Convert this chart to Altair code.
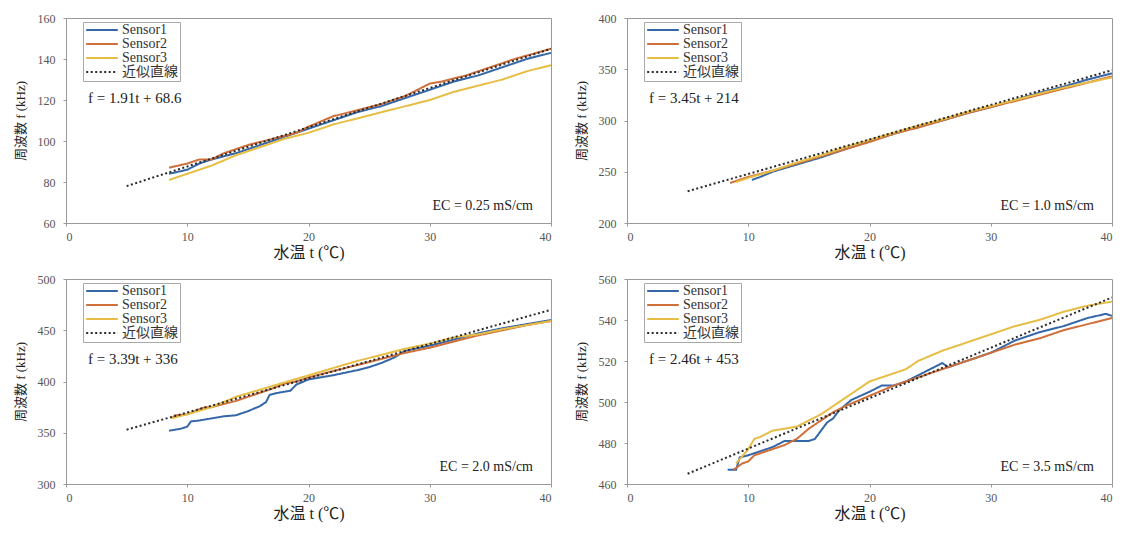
import altair as alt
import pandas as pd

SERIES = ["Sensor1", "Sensor2", "Sensor3", "近似直線"]
COLORS = ["#3567a8", "#cf6f3a", "#e6bd45", "#2a2a2a"]
X_TICKS = [0, 10, 20, 30, 40]

# ---- Panel 1: EC = 0.25 mS/cm ----
P1_S1_T = [8.5, 10, 11, 12, 14, 16, 18, 20, 22, 24, 26, 28, 30, 32, 34, 36, 38, 40]
P1_S1_F = [84, 86, 89, 91, 94, 98, 102, 106, 110, 114, 117, 121, 125, 129, 132, 136, 140, 143]
P1_S2_T = [8.5, 10, 11, 12, 13, 15, 17, 19, 20, 22, 24, 26, 28, 30, 31, 33, 35, 37, 40]
P1_S2_F = [87, 89, 91, 91, 94, 98, 101, 104, 107, 112, 115, 118, 122, 128, 129, 132, 136, 140, 145]
P1_S3_T = [8.5, 10, 12, 14, 16, 18, 20, 22, 24, 26, 28, 30, 32, 34, 36, 38, 40]
P1_S3_F = [81, 84, 88, 93, 97, 101, 104, 108, 111, 114, 117, 120, 124, 127, 130, 134, 137]
P1_FIT_T = [5, 40]
P1_FIT_F = [78, 145]
P1_Y = [60, 160]
P1_YTICKS = [60, 80, 100, 120, 140, 160]
P1_EQ = "f = 1.91t + 68.6"
P1_EC = "EC = 0.25 mS/cm"

# ---- Panel 2: EC = 1.0 mS/cm ----
P2_S1_T = [10.3, 11, 12, 14, 16, 18, 20, 22, 24, 26, 28, 30, 32, 34, 36, 38, 40]
P2_S1_F = [242, 245, 250, 257, 264, 272, 280, 287, 294, 300, 307, 313, 320, 327, 333, 340, 346]
P2_S2_T = [8.5, 9, 10, 12, 14, 16, 18, 20, 22, 24, 26, 28, 30, 32, 34, 36, 38, 40]
P2_S2_F = [239, 241, 245, 251, 258, 265, 272, 279, 287, 293, 300, 307, 313, 319, 325, 331, 337, 343]
P2_S3_T = [9, 10, 12, 14, 16, 18, 20, 22, 24, 26, 28, 30, 32, 34, 36, 38, 40]
P2_S3_F = [240, 244, 251, 259, 266, 274, 281, 288, 295, 301, 308, 314, 320, 326, 332, 337, 342]
P2_FIT_T = [5, 40]
P2_FIT_F = [231, 349]
P2_Y = [200, 400]
P2_YTICKS = [200, 250, 300, 350, 400]
P2_EQ = "f = 3.45t + 214"
P2_EC = "EC = 1.0 mS/cm"

# ---- Panel 3: EC = 2.0 mS/cm ----
P3_S1_T = [8.5, 9.5, 10, 10.3, 11, 12, 13, 14, 15, 16, 16.5, 16.8, 17.5, 18.5, 19, 20, 22, 24, 25, 26, 27, 28, 30, 32, 34, 36, 38, 40]
P3_S1_F = [352, 354, 356, 361, 362, 364, 366, 367, 371, 376, 380, 387, 389, 391, 397, 402, 406, 411, 414, 418, 423, 430, 435, 441, 447, 452, 456, 460]
P3_S2_T = [8.7, 9, 10, 11, 11.5, 12, 13, 14, 15, 16, 17, 18, 19, 20, 22, 24, 26, 28, 30, 32, 34, 36, 38, 40]
P3_S2_F = [364, 367, 368, 373, 375, 375, 378, 381, 385, 389, 393, 398, 400, 404, 410, 416, 422, 428, 433, 439, 445, 450, 455, 459]
P3_S3_T = [8.7, 10, 12, 14, 16, 18, 20, 22, 24, 26, 28, 30, 32, 34, 36, 38, 40]
P3_S3_F = [364, 368, 375, 385, 392, 399, 406, 413, 420, 426, 432, 437, 443, 446, 451, 455, 459]
P3_FIT_T = [5, 40]
P3_FIT_F = [353, 470]
P3_Y = [300, 500]
P3_YTICKS = [300, 350, 400, 450, 500]
P3_EQ = "f = 3.39t + 336"
P3_EC = "EC = 2.0 mS/cm"

# ---- Panel 4: EC = 3.5 mS/cm ----
P4_S1_T = [8.3, 9, 9.3, 10, 10.5, 11, 12, 13, 14, 15, 15.5, 16, 16.5, 17, 17.5, 18.5, 20, 21, 22, 23, 24, 25, 26, 26.5, 28, 30, 32, 34, 36, 38, 39.5, 40]
P4_S1_F = [467, 467, 473, 474, 475, 476, 478, 481, 481, 481, 482, 486, 490, 492, 496, 501, 505, 508, 508, 510, 513, 516, 519, 517, 520, 524, 530, 534, 537, 541, 543, 542]
P4_S2_T = [8.8, 9.5, 10, 10.5, 11, 12, 13, 14, 15, 16, 17, 18, 20, 22, 24, 26, 28, 30, 32, 34, 36, 38, 40]
P4_S2_F = [467, 470, 471, 474, 475, 477, 479, 482, 487, 491, 495, 498, 503, 508, 512, 516, 520, 524, 528, 531, 535, 538, 541]
P4_S3_T = [9, 10, 10.5, 11, 12, 13, 14, 15, 16, 17, 18, 19, 20, 22, 23, 24, 26, 28, 30, 32, 34, 36, 38, 40]
P4_S3_F = [470, 477, 482, 483, 486, 487, 488, 491, 494, 498, 502, 506, 510, 514, 516, 520, 525, 529, 533, 537, 540, 544, 547, 549]
P4_FIT_T = [5, 40]
P4_FIT_F = [465, 551]
P4_Y = [460, 560]
P4_YTICKS = [460, 480, 500, 520, 540, 560]
P4_EQ = "f = 2.46t + 453"
P4_EC = "EC = 3.5 mS/cm"

SERIF = "'Liberation Serif', 'Times New Roman', 'Noto Sans CJK JP', serif"
W, H = 485, 205


def panel(sensors, fit_t, fit_f, ydom, yticks, eq, ec):
    rows = []
    for name, (ts, fs) in zip(SERIES[:3], sensors):
        rows += [{"t": t, "f": f, "series": name} for t, f in zip(ts, fs)]
    rows += [{"t": t, "f": f, "series": SERIES[3]} for t, f in zip(fit_t, fit_f)]
    df = pd.DataFrame(rows)
    leg = alt.Legend(
        title=None, orient="none", legendX=17, legendY=4,
        symbolType="stroke", symbolSize=1000, symbolStrokeWidth=2,
        labelFont=SERIF, labelFontSize=14, labelColor="#333",
        clipHeight=12, rowPadding=0, padding=2, strokeColor="#aaa", fillColor="white",
        symbolOffset=0, labelOffset=3,
    )
    lines = alt.Chart(df).mark_line(strokeWidth=2, clip=True).encode(
        x=alt.X("t:Q", scale=alt.Scale(domain=[0, 40]),
                axis=alt.Axis(values=X_TICKS, title="水温  t (℃)", titleFontSize=16,
                              titlePadding=2, labelPadding=5)),
        y=alt.Y("f:Q", scale=alt.Scale(domain=ydom),
                axis=alt.Axis(values=yticks, title="周波数  f (kHz)", titleFontSize=13,
                              titlePadding=10, labelPadding=8)),
        color=alt.Color("series:N", scale=alt.Scale(domain=SERIES, range=COLORS), legend=leg),
        strokeDash=alt.StrokeDash("series:N", scale=alt.Scale(
            domain=SERIES, range=[[1, 0], [1, 0], [1, 0], [2, 2.5]]), legend=leg),
    )
    eq_t = alt.Chart(pd.DataFrame({"label": [eq]})).mark_text(
        align="left", baseline="middle", font=SERIF, fontSize=15, color="#222"
    ).encode(x=alt.value(22), y=alt.value(80), text="label:N")
    ec_t = alt.Chart(pd.DataFrame({"label": [ec]})).mark_text(
        align="right", baseline="middle", font=SERIF, fontSize=14, color="#222"
    ).encode(x=alt.value(W - 18), y=alt.value(H - 17), text="label:N")
    return alt.layer(lines, eq_t, ec_t).properties(width=W, height=H)


p1 = panel([(P1_S1_T, P1_S1_F), (P1_S2_T, P1_S2_F), (P1_S3_T, P1_S3_F)], P1_FIT_T, P1_FIT_F, P1_Y, P1_YTICKS, P1_EQ, P1_EC)
p2 = panel([(P2_S1_T, P2_S1_F), (P2_S2_T, P2_S2_F), (P2_S3_T, P2_S3_F)], P2_FIT_T, P2_FIT_F, P2_Y, P2_YTICKS, P2_EQ, P2_EC)
p3 = panel([(P3_S1_T, P3_S1_F), (P3_S2_T, P3_S2_F), (P3_S3_T, P3_S3_F)], P3_FIT_T, P3_FIT_F, P3_Y, P3_YTICKS, P3_EQ, P3_EC)
p4 = panel([(P4_S1_T, P4_S1_F), (P4_S2_T, P4_S2_F), (P4_S3_T, P4_S3_F)], P4_FIT_T, P4_FIT_F, P4_Y, P4_YTICKS, P4_EQ, P4_EC)

top = alt.hconcat(p1, p2, spacing=22).resolve_scale(color="independent", strokeDash="independent")
bottom = alt.hconcat(p3, p4, spacing=22).resolve_scale(color="independent", strokeDash="independent")
chart = alt.vconcat(top, bottom, spacing=11).resolve_scale(
    color="independent", strokeDash="independent"
).properties(
    padding={"left": 5, "top": 3, "right": 2, "bottom": 2}, background="white"
).configure_view(
    stroke="#999"
).configure_axis(
    grid=False, domainColor="#999", tickColor="#999", tickSize=3,
    labelColor="#555", labelFont=SERIF, labelFontSize=12,
    titleFont=SERIF, titleColor="#222", titleFontWeight="normal",
).configure_legend(
    labelFont=SERIF, labelFontSize=14, labelColor="#333",
).configure_text(font=SERIF)

chart.save("out.html", embed_options={"renderer": "svg", "actions": False})
